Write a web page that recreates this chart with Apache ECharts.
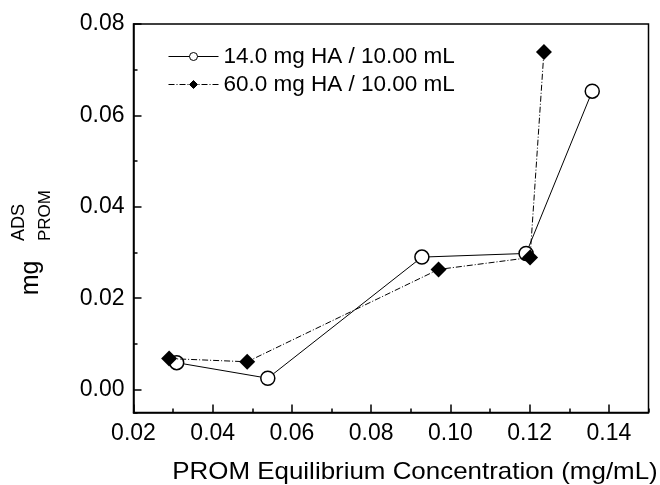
<!DOCTYPE html>
<html>
<head>
<meta charset="utf-8">
<script src="https://cdn.jsdelivr.net/npm/echarts@6/dist/echarts.min.js"></script>
<style>
  html, body { margin: 0; padding: 0; background: #fff; }
  #chart { width: 660px; height: 485px; }
</style>
</head>
<body>
<div id="chart"></div>
<script>
// 数据：PROM 平衡浓度 (mg/mL) 与吸附量
const seriesNames = ['14.0 mg HA / 10.00 mL', '60.0 mg HA / 10.00 mL']
const ha14X = [0.0309, 0.0539, 0.0928, 0.1191, 0.1358]
const ha14Y = [0.0059, 0.0025, 0.0290, 0.0298, 0.0653]
const ha60X = [0.0290, 0.0487, 0.0970, 0.1201, 0.1236]
const ha60Y = [0.0068, 0.0061, 0.0263, 0.0289, 0.0739]

const FONT = "'Liberation Sans', Arial, sans-serif"

const chart = echarts.init(document.getElementById('chart'))

const pairs = (xs, ys) => xs.map((x, i) => [x, ys[i]])

const option = {
  animation: false,
  backgroundColor: '#fff',
  textStyle: { fontFamily: FONT, color: '#000' },
  grid: {
    left: 133.5,
    right: 11.5,
    top: 24,
    bottom: 72.5,
    show: true,
    borderColor: '#000',
    borderWidth: 1.5,
    backgroundColor: 'transparent'
  },
  legend: {
    orient: 'vertical',
    left: 168,
    top: 45,
    padding: 0,
    itemWidth: 50,
    itemHeight: 10,
    itemGap: 5,
    lineStyle: { width: 1 },
    itemStyle: { borderWidth: 1 },
    textStyle: { fontFamily: FONT, fontSize: 22.5, color: '#000' },
    data: seriesNames
  },
  xAxis: [
    {
      type: 'value',
      min: 0.02,
      max: 0.15,
      interval: 0.02,
      axisLine: { onZero: false, lineStyle: { color: '#000', width: 1.5 } },
      axisTick: { inside: true, length: 8, lineStyle: { color: '#000', width: 1.5 } },
      axisLabel: {
        margin: 10,
        fontSize: 23,
        fontFamily: FONT,
        color: '#000',
        showMaxLabel: false,
        formatter: v => v.toFixed(2)
      },
      splitLine: { show: false }
    },
    {
      // 次刻度
      type: 'value',
      position: 'bottom',
      min: 0.02,
      max: 0.15,
      interval: 0.01,
      axisLine: { show: false, onZero: false },
      axisTick: { inside: true, length: 4, lineStyle: { color: '#000', width: 1.5 } },
      axisLabel: { show: false },
      splitLine: { show: false }
    }
  ],
  yAxis: [
    {
      type: 'value',
      min: -0.005,
      max: 0.08,
      splitNumber: 4,
      axisLine: { onZero: false, lineStyle: { color: '#000', width: 1.5 } },
      axisTick: { inside: true, length: 8, lineStyle: { color: '#000', width: 1.5 } },
      axisLabel: {
        margin: 9,
        fontSize: 23,
        fontFamily: FONT,
        color: '#000',
        showMinLabel: false,
        formatter: v => v.toFixed(2)
      },
      splitLine: { show: false }
    },
    {
      // 次刻度
      type: 'value',
      position: 'left',
      min: -0.005,
      max: 0.08,
      splitNumber: 9,
      axisLine: { show: false, onZero: false },
      axisTick: { inside: true, length: 4, lineStyle: { color: '#000', width: 1.5 } },
      axisLabel: { show: false },
      splitLine: { show: false }
    }
  ],
  graphic: [
    {
      type: 'text', x: 415, y: 472, scaleX: 1.08,
      style: {
        text: 'PROM Equilibrium Concentration (mg/mL)',
        font: '24px ' + FONT, fill: '#000',
        textAlign: 'center', textVerticalAlign: 'middle'
      }
    },
    {
      type: 'text', x: 31, y: 278, rotation: Math.PI / 2,
      style: {
        text: 'mg', font: '25px ' + FONT, fill: '#000',
        textAlign: 'center', textVerticalAlign: 'middle'
      }
    },
    {
      type: 'text', x: 19.5, y: 241, rotation: Math.PI / 2,
      style: {
        text: 'ADS', font: '18px ' + FONT, fill: '#000',
        textAlign: 'left', textVerticalAlign: 'middle'
      }
    },
    {
      type: 'text', x: 45, y: 241, rotation: Math.PI / 2,
      style: {
        text: 'PROM', font: '17px ' + FONT, fill: '#000',
        textAlign: 'left', textVerticalAlign: 'middle'
      }
    }
  ],
  series: [
    {
      name: seriesNames[0],
      type: 'line',
      xAxisIndex: 0,
      yAxisIndex: 0,
      data: pairs(ha14X, ha14Y),
      symbol: 'circle',
      symbolSize: 14,
      itemStyle: { color: '#fff', borderColor: '#000', borderWidth: 1.5 },
      lineStyle: { color: '#000', width: 1 },
      z: 2
    },
    {
      name: seriesNames[1],
      type: 'line',
      xAxisIndex: 0,
      yAxisIndex: 0,
      data: pairs(ha60X, ha60Y),
      symbol: 'diamond',
      symbolSize: 16,
      itemStyle: { color: '#000', borderColor: '#000', borderWidth: 0 },
      lineStyle: { color: '#000', width: 1, type: [6, 2, 1, 2] },
      z: 3
    }
  ]
}

chart.setOption(option)
window.addEventListener('resize', () => chart.resize())
</script>
</body>
</html>
